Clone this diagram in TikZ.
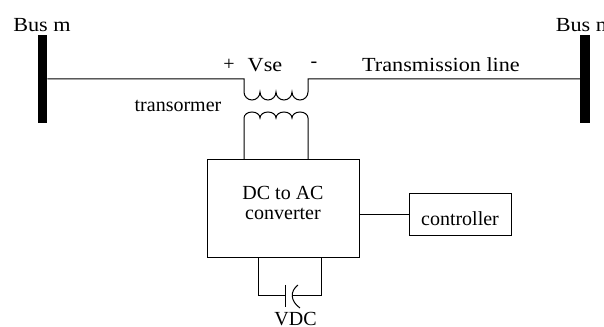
\documentclass[tikz,border=0pt]{standalone}
\usepackage{fontspec}
\setmainfont{Liberation Serif}
\newcommand{\widetxt}[1]{\scalebox{1.11}[1]{#1}}
\tikzset{
  lbl/.style={inner sep=0pt,align=center,font=\fontsize{15}{15}\selectfont},
  bus/.style={fill=black,inner sep=0pt,minimum width=7pt,minimum height=66.5pt},
  blk/.style={draw,inner sep=0pt,line width=.75pt},
  wire/.style={line width=.75pt}
}
\begin{document}
\begin{tikzpicture}[x=.75pt,y=-.75pt]
  \useasboundingbox (0,0) rectangle (604,327);
  \clip (0,0) rectangle (604,327);
  \node[bus] (busl) at (42.5,79) {};
  \node[bus] (busr) at (585,79) {};
  \node[lbl] (lbusl) at (42,25) {\widetxt{Bus m}};
  \node[lbl] (lbusr) at (584.5,25) {\widetxt{Bus m}};
  \node[blk,minimum width=114pt,minimum height=73.5pt] (conv) at (283,209) {};
  \node[blk,minimum width=76.5pt,minimum height=32pt] (ctrl) at (460,214.5) {};
  \node[lbl] (lconv) at (283,203) {DC to AC\\converter};
  \node[lbl] (lctrl) at (460,219) {controller};
  \node[lbl] (plus) at (229,65) {+};
  \node[lbl] (vse) at (265,65) {\widetxt{Vse}};
  \node[lbl] (minus) at (314,65) {-};
  \node[lbl] (line) at (441,65) {\widetxt{Transmission line}};
  \node[lbl] (trans) at (178,106) {transormer};
  \node[lbl] (vdc) at (295.5,319) {VDC};
  % series winding
  \coordinate (sel) at (244,79);
  \coordinate (ser) at (308,79);
  \draw[wire] (busl) -- (sel) -- (244,92) arc (180:0:8) arc (180:0:8) arc (180:0:8) arc (180:0:8) -- (ser) -- (busr);
  % converter winding
  \coordinate (pl) at (244,160);
  \coordinate (pr) at (308,160);
  \draw[wire] (pl) -- (244,118) arc (180:360:8 and 6) arc (180:360:8 and 6) arc (180:360:8 and 6) arc (180:360:8 and 6) -- (pr);
  \draw[wire] (ctrl.west) -- (ctrl.west -| conv.east);
  % capacitor loop
  \coordinate (cl) at (258,258);
  \coordinate (cr) at (321,258);
  \coordinate (cpa) at (285,296);
  \coordinate (cpb) at (292,296);
  \draw[wire] (cl) -- (258,296) -- (cpa);
  \draw[wire] (285,285) -- (285,307);
  \draw[wire] (298,285) .. controls (290,291) and (290,301) .. (300,308);
  \draw[wire] (cr) -- (321,296) -- (cpb);
\end{tikzpicture}
\end{document}
